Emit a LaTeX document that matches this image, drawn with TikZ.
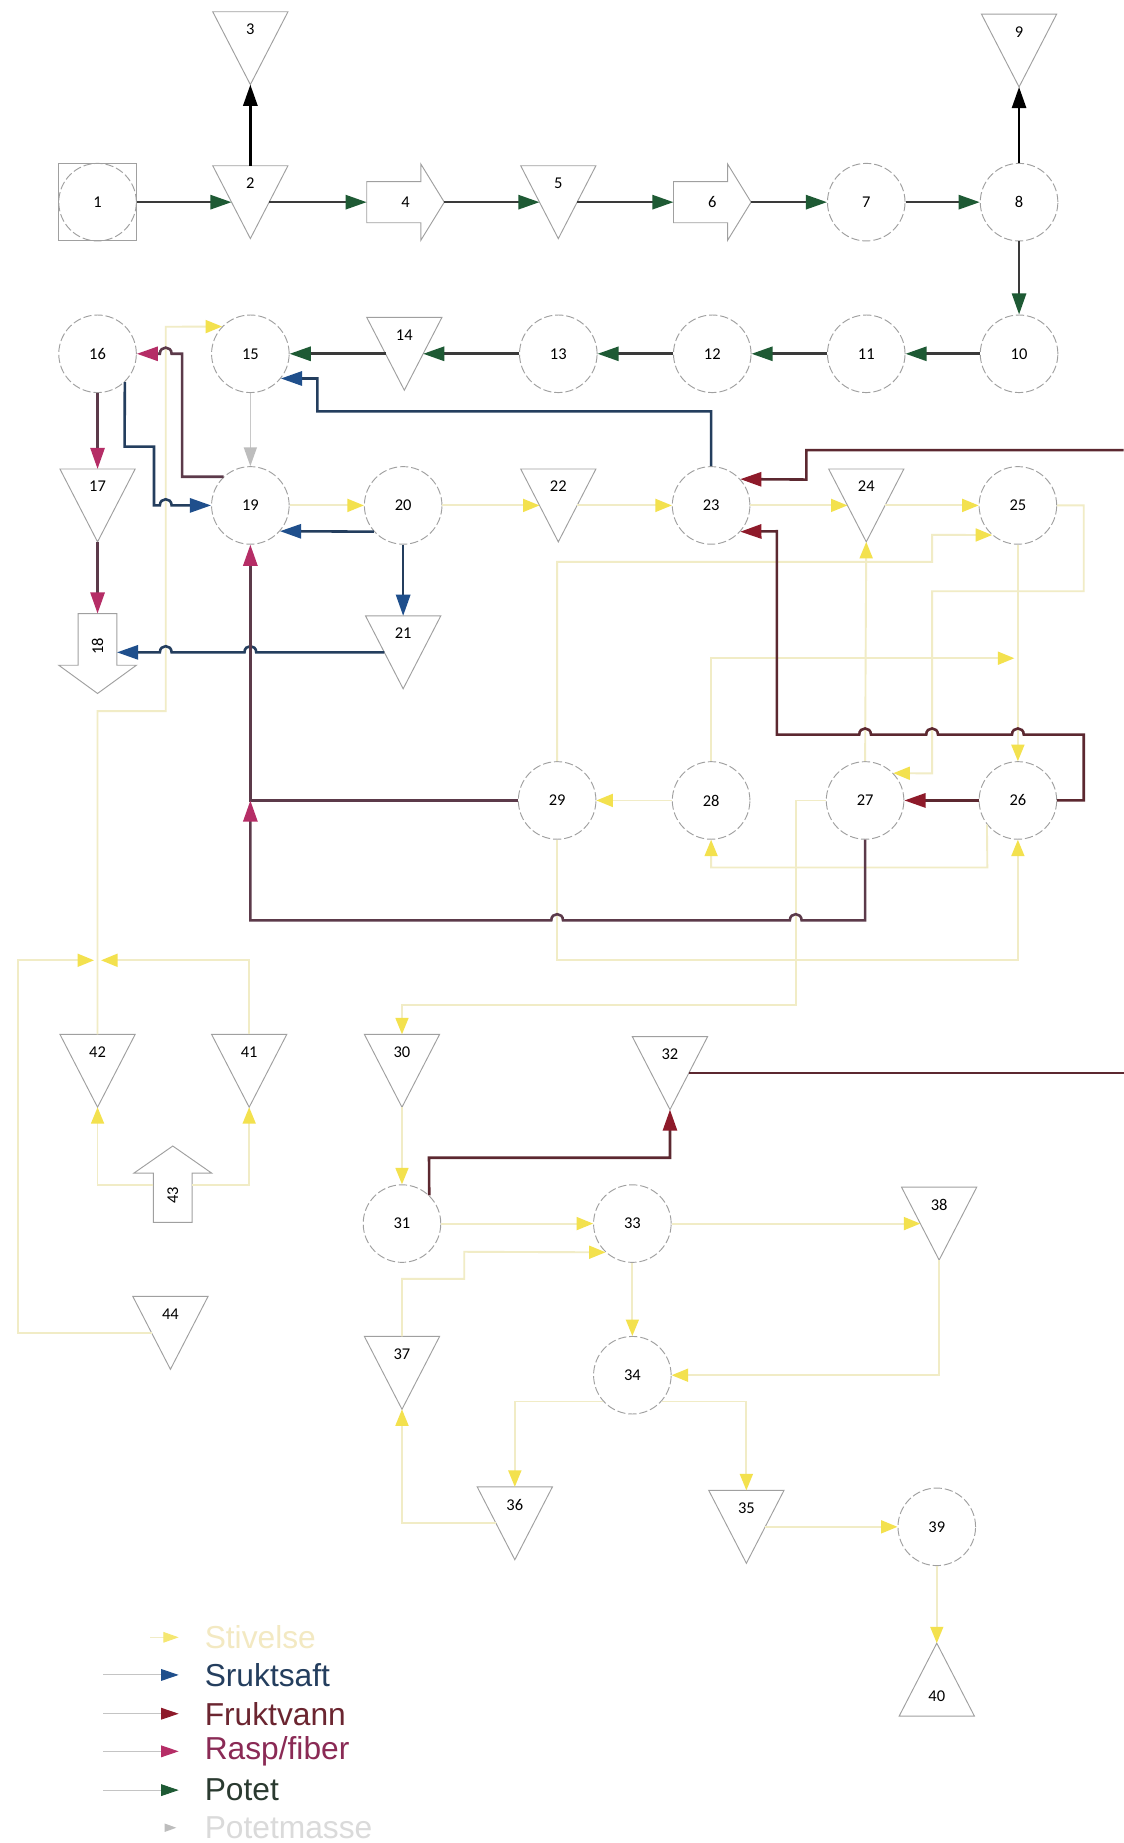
\documentclass[tikz,border=0pt]{standalone}
\usepackage{fontspec}
\setmainfont{Carlito}
\newfontfamily\legfont{Liberation Sans}
\usetikzlibrary{arrows.meta,calc}
\definecolor{potline}{HTML}{3A3A3A}
\definecolor{pothead}{HTML}{1E5A34}
\definecolor{sruline}{HTML}{243E5E}
\definecolor{sruhead}{HTML}{1F4F8C}
\definecolor{fruline}{HTML}{5C2830}
\definecolor{fruhead}{HTML}{8E1A2A}
\definecolor{rasline}{HTML}{5C3A4A}
\definecolor{rashead}{HTML}{B52D66}
\definecolor{stvline}{HTML}{F1ECC6}
\definecolor{stvhead}{HTML}{F3E14E}
\definecolor{pmline}{HTML}{C8C8C8}
\definecolor{pmhead}{HTML}{BDBDBD}
\definecolor{shapegray}{HTML}{A0A0A0}
\definecolor{leggray}{HTML}{C4C4C4}
\definecolor{stvtext}{HTML}{F3E9C2}
\definecolor{pmtext}{HTML}{DADADA}
\definecolor{frutext}{HTML}{6B2530}
\definecolor{rastext}{HTML}{8A2A55}
\definecolor{pottext}{HTML}{2A3A30}

% inverted triangle: name, x, top y, label
\newcommand\TriDown[4]{%
  \node[tribox] (#1) at (#2,#3+31) {};
  \draw[shp] (#2-32,#3) -- (#2+32,#3) -- (#2,#3+62) -- cycle;
  \node[lbl] (#1l) at (#2,#3+15) {#4};
}
% upright triangle: name, x, apex y, label
\newcommand\TriUp[4]{%
  \node[tribox] (#1) at (#2,#3+31) {};
  \draw[shp] (#2,#3) -- (#2+32,#3+62) -- (#2-32,#3+62) -- cycle;
  \node[lbl] (#1l) at (#2,#3+45) {#4};
}
% right-pointing block arrow: name, x, y, label
\newcommand\ArrR[4]{%
  \node[lbl, minimum width=66pt, minimum height=35pt, outer sep=0pt] (#1) at (#2,#3) {#4};
  \draw[shp] (#2-33,#3-17.5) -- (#2+13,#3-17.5) -- (#2+13,#3-32.5) -- (#2+33,#3)
     -- (#2+13,#3+32.5) -- (#2+13,#3+17.5) -- (#2-33,#3+17.5) -- cycle;
}

\begin{document}
\begin{tikzpicture}[x=1pt,y=-1pt,
  circ/.style={circle, draw=shapegray, line width=0.8pt, dash pattern=on 7pt off 2.5pt,
     minimum size=66pt, inner sep=0pt, font=\fontsize{14}{14}\selectfont},
  tribox/.style={rectangle, draw=none, minimum width=32pt, minimum height=62pt, inner sep=0pt, outer sep=0pt},
  shp/.style={draw=shapegray, line width=0.8pt, line join=miter},
  lbl/.style={font=\fontsize{14}{14}\selectfont, inner sep=0pt},
  pot/.style={draw=potline, line width=2.2pt, -{Triangle[length=18pt,width=12pt,color=pothead]}},
  blk/.style={draw=black, line width=2.2pt, -{Triangle[length=18pt,width=12pt,color=black]}},
  sru/.style={draw=sruline, line width=2.2pt, -{Triangle[length=18pt,width=12pt,color=sruhead]}},
  fru/.style={draw=fruline, line width=2.2pt, -{Triangle[length=18pt,width=12pt,color=fruhead]}},
  frul/.style={draw=fruline, line width=2.2pt},
  ras/.style={draw=rasline, line width=2.2pt, -{Triangle[length=18pt,width=12pt,color=rashead]}},
  stv/.style={draw=stvline, line width=1.6pt, -{Triangle[length=14pt,width=11pt,color=stvhead]}},
  pm/.style={draw=pmline, line width=1.4pt, -{Triangle[length=16pt,width=11pt,color=pmhead]}},
  leg/.style={font=\legfont\fontsize{27}{27}\selectfont, anchor=west, inner sep=0pt},
  legl/.style={draw=leggray, line width=0.8pt},
]
\useasboundingbox (0,0) rectangle (956,1568);
\fill[white] (0,0) rectangle (956,1568);

% ---------------- nodes ----------------
% row 1
\node[circ] (n1) at (83,172) {1};
\draw[shp] ($(n1.center)+(-33,-33)$) rectangle ($(n1.center)+(33,33)$);
\TriDown{n2}{213}{141}{2}
\TriDown{n3}{213}{10}{3}
\ArrR{n4}{345}{172}{4}
\TriDown{n5}{475}{141}{5}
\ArrR{n6}{606}{172}{6}
\node[circ] (n7) at (737,172) {7};
\node[circ] (n8) at (867,172) {8};
\TriDown{n9}{867}{12}{9}
% row 2
\node[circ] (n10) at (867,301) {10};
\node[circ] (n11) at (737,301) {11};
\node[circ] (n12) at (606,301) {12};
\node[circ] (n13) at (475,301) {13};
\TriDown{n14}{344}{270}{14}
\node[circ] (n15) at (213,301) {15};
\node[circ] (n16) at (83,301) {16};
% row 3
\TriDown{n17}{83}{399}{17}
\node[circ] (n19) at (213,430) {19};
\node[circ] (n20) at (343,430) {20};
\TriDown{n22}{475}{399}{22}
\node[circ] (n23) at (605,430) {23};
\TriDown{n24}{737}{399}{24}
\node[circ] (n25) at (866,430) {25};
% row 4
\node[tribox, minimum width=33pt, minimum height=66pt] (n18) at (83,555) {};
\draw[shp] (66.5,522) -- (99.5,522) -- (99.5,566) -- (116,566) -- (83,590) -- (50,566) -- (66.5,566) -- cycle;
\node[lbl, rotate=90] (n18l) at (83,550) {18};
\TriDown{n21}{343}{524}{21}
% row 5
\node[circ] (n29) at (474,681) {29};
\node[circ] (n28) at (605,681) {28};
\node[circ] (n27) at (736,681) {27};
\node[circ] (n26) at (866,681) {26};
% lower part
\TriDown{n42}{83}{880}{42}
\TriDown{n41}{212}{880}{41}
\TriDown{n30}{342}{880}{30}
\TriDown{n32}{570}{882}{32}
\node[tribox, minimum width=33pt, minimum height=42pt] (n43) at (147,1008) {};
\draw[shp] (147,975) -- (180,998) -- (163.5,998) -- (163.5,1040) -- (130.5,1040) -- (130.5,998) -- (114,998) -- cycle;
\node[lbl, rotate=90] (n43l) at (147,1017) {43};
\node[circ] (n31) at (342,1041) {31};
\node[circ] (n33) at (538,1041) {33};
\TriDown{n38}{799}{1010}{38}
\TriDown{n44}{145}{1103}{44}
\TriDown{n37}{342}{1137}{37}
\node[circ] (n34) at (538,1170) {34};
\TriDown{n36}{438}{1265}{36}
\TriDown{n35}{635}{1268}{35}
\node[circ] (n39) at (797,1299) {39};
\TriUp{n40}{797}{1398}{40}

% ---------------- Stivelse (yellow) ----------------
\coordinate (mg) at (83,817);
\coordinate (j26) at (863,560);
\draw[stv] (n19.east) -- (n20.west);
\draw[stv] (n20.east) -- (n22.west);
\draw[stv] (n22.east) -- (n23.west);
\draw[stv] (n23.east) -- (n24.west);
\draw[stv] (n24.east) -- (n25.west);
\draw[stv] (n25.east) -- (922,430) -- (922,503) -- (793,503) -- (793,658) -- (n27.44);
\draw[stv] (n25.south) -- (n26.north);
\draw[stv] (n29.north) -- (474,478) -- (793,478) -- (793,455) -- (n25.-131);
\draw[stv] (n27.north) -- (n24.south);
\draw[stv] (n28.north) |- (j26);
\draw[stv] (n28.west) -- (n29.east);
\draw[stv] (n26.-142) -- (840,738) -| (n28.south);
\draw[stv] (n29.south) -- (474,817) -| (n26.south);
\draw[stv] (n27.west) -- (677,681) -- (677,855) -| (n30.north);
\draw[stv] (n44.west) -- (15,1134) -- (15,817) -- ([xshift=-3pt]mg);
\draw[stv] (n41.north) |- ([xshift=3pt]mg);
\draw[stv] (n42.north) -- (83,605) -- (141,605) -- (141,278) -- (n15.136);
\draw[stv] (n43.west) -| (n42.south);
\draw[stv] (n43.east) -| (n41.south);
\draw[stv] (n30.south) -- (n31.north);
\draw[stv] (n31.east) -- (n33.west);
\draw[stv] (n37.north) -- (342,1088) -- (395,1088) -- (395,1065) -- (n33.-133);
\draw[stv] (n33.east) -- (n38.west);
\draw[stv] (n33.south) -- (n34.north);
\draw[stv] (n38.south) |- (n34.east);
\draw[stv] (n34.-138) -| (n36.north);
\draw[stv] (n34.-42) -| (n35.north);
\draw[stv] (n36.west) -| (n37.south);
\draw[stv] (n35.east) -- (n39.west);
\draw[stv] (n39.south) -- (n40.north);

% ---------------- Potetmasse ----------------
\draw[pm] (n15.south) -- (n19.north);

% ---------------- Potet ----------------
\draw[pot] (n1.east) -- (n2.west);
\draw[pot] (n2.east) -- (n4.west);
\draw[pot] (n4.east) -- (n5.west);
\draw[pot] (n5.east) -- (n6.west);
\draw[pot] (n6.east) -- (n7.west);
\draw[pot] (n7.east) -- (n8.west);
\draw[pot] (n8.south) -- (n10.north);
\draw[pot] (n10.west) -- (n11.east);
\draw[pot] (n11.west) -- (n12.east);
\draw[pot] (n12.west) -- (n13.east);
\draw[pot] (n13.west) -- (n14.east);
\draw[pot] (n14.west) -- (n15.east);
\draw[blk] (n2.north) -- (n3.south);
\draw[blk] (n8.north) -- (n9.south);

% ---------------- Sruktsaft ----------------
\draw[sru] (n23.north) |- (270,350) -- (270,322) -- (n15.-39.5);
\draw[sru] (n16.-46) -- (106,380) -- (131,380) -- (131,430) -- (136,430)
   .. controls (136,423) and (146,423) .. (146,430) -- (n19.west);
\draw[sru] (n20.-138.2) -- (n19.-41.8);
\draw[sru] (n20.south) -- (n21.north);
\draw[sru] (n21.west) -- (218,555) .. controls (218,548) and (208,548) .. (208,555)
   -- (146,555) .. controls (146,548) and (136,548) .. (136,555) -- (n18.east);

% ---------------- Rasp/fiber ----------------
\draw[ras] (n16.south) -- (n17.north);
\draw[ras] (n17.south) -- (n18.north);
\draw[ras] (n19.133) -| (155,301) -- (146,301) .. controls (146,294) and (136,294) .. (136,301) -- (n16.east);
\draw[ras] (n29.west) -| (n19.south);
\draw[ras] (n27.south) |- (682,783) .. controls (682,776) and (672,776) .. (672,783)
   -- (479,783) .. controls (479,776) and (469,776) .. (469,783) -- (213,783) -- (n19.south |- n29.west);

% ---------------- Fruktvann ----------------
\coordinate (redin) at (956,383);
\coordinate (redout) at (956,913);
\draw[fru] (n26.west) -- (n27.east);
\draw[fru] (n26.east) -- (922,681) -- (922,625)
   -- (871,625) .. controls (871,618) and (861,618) .. (861,625)
   -- (798,625) .. controls (798,618) and (788,618) .. (788,625)
   -- (741,625) .. controls (741,618) and (731,618) .. (731,625)
   -- (661,625) -- (661,452) -- (n23.-42);
\draw[fru] (redin) -- (686,383) -- (686,408) -- (n23.42);
\draw[frul] (n32.east) -- (redout);
\draw[fru] (n31.46) -- (365,985) -| (n32.south);

% ---------------- Legend ----------------
\coordinate (la1) at (128,1393); \coordinate (lb1) at (152,1393);
\coordinate (la2) at (88,1425);  \coordinate (lb2) at (152,1425);
\coordinate (la3) at (88,1458);  \coordinate (lb3) at (152,1458);
\coordinate (la4) at (88,1490);  \coordinate (lb4) at (152,1490);
\coordinate (la5) at (88,1523);  \coordinate (lb5) at (152,1523);
\coordinate (la6) at (136,1555); \coordinate (lb6) at (150,1555);
\draw[draw=stvline, line width=0.8pt, -{Triangle[length=13pt,width=9pt,color=stvhead!80!white]}] (la1) -- (lb1);
\draw[legl, -{Triangle[length=15pt,width=10pt,color=sruhead]}] (la2) -- (lb2);
\draw[legl, -{Triangle[length=15pt,width=10pt,color=fruhead]}] (la3) -- (lb3);
\draw[legl, -{Triangle[length=15pt,width=10pt,color=rashead]}] (la4) -- (lb4);
\draw[legl, -{Triangle[length=15pt,width=10pt,color=pothead]}] (la5) -- (lb5);
\draw[draw=white, line width=0.8pt, -{Triangle[length=10pt,width=7pt,color=pmhead]}] (la6) -- (lb6);
\node[leg, text=stvtext] (t1) at (174,1393) {Stivelse};
\node[leg, text=sruline] (t2) at (174,1425) {Sruktsaft};
\node[leg, text=frutext] (t3) at (174,1458) {Fruktvann};
\node[leg, text=rastext] (t4) at (174,1490) {Rasp/fiber};
\node[leg, text=pottext] (t5) at (174,1523) {Potet};
\node[leg, text=pmtext] (t6) at (174,1555) {Potetmasse};
\end{tikzpicture}
\end{document}
